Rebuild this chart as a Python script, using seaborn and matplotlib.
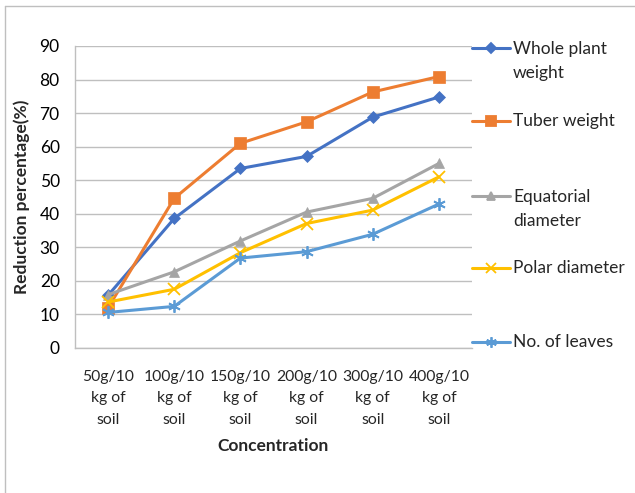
import matplotlib
matplotlib.use("Agg")
import matplotlib.pyplot as plt
from matplotlib.lines import Line2D
import seaborn as sns
import pandas as pd

categories = ["50g/10\nkg of\nsoil", "100g/10\nkg of\nsoil", "150g/10\nkg of\nsoil",
              "200g/10\nkg of\nsoil", "300g/10\nkg of\nsoil", "400g/10\nkg of\nsoil"]
whole_plant = [15.7, 38.6, 53.5, 57.1, 68.8, 74.8]
tuber = [12.0, 44.6, 61.0, 67.4, 76.3, 80.9]
equatorial = [15.9, 22.7, 31.9, 40.5, 44.6, 55.0]
polar = [13.7, 17.5, 28.4, 37.1, 41.1, 51.0]
leaves = [10.6, 12.4, 26.8, 28.7, 33.9, 42.9]

series_names = ["Whole plant\nweight", "Tuber weight", "Equatorial\ndiameter",
                "Polar diameter", "No. of leaves"]
series_values = [whole_plant, tuber, equatorial, polar, leaves]
colors = ["#4472c4", "#ed7d31", "#a5a5a5", "#ffc000", "#5b9bd5"]
markers = ["D", "s", "^", "x", (6, 2, 0)]
msizes = [6, 8.5, 7.5, 8, 9]

rows = []
for name, vals in zip(series_names, series_values):
    for i, v in enumerate(vals):
        rows.append({"series": name, "pos": i, "value": v})
df = pd.DataFrame(rows)

sns.set_style("white")
plt.rcParams["font.family"] = ["Lato", "DejaVu Sans"]
FS = 12.5

fig = plt.figure(figsize=(6.35, 4.93), dpi=100)
ax = fig.add_axes([75 / 635, 1 - 348 / 493, (472 - 75) / 635, (348 - 46) / 493])

for name, c, m, ms in zip(series_names, colors, markers, msizes):
    sub = df[df["series"] == name]
    sns.lineplot(data=sub, x="pos", y="value", ax=ax, color=c, marker=m,
                 markersize=ms, linewidth=2.2, markeredgecolor=c,
                 markeredgewidth=1.3 if m in ("x", (6, 2, 0)) else 0.5,
                 legend=False, zorder=3)

ax.set_xlim(-0.5, 5.5)
ax.set_ylim(0, 90)
ax.set_yticks(range(0, 91, 10))
ax.set_yticklabels([str(v) for v in range(0, 91, 10)], fontsize=FS, color="#000000")
ax.set_xticks(range(6))
ax.set_xticklabels(categories, fontsize=11.3, linespacing=1.65)
ax.set_xticks([i - 0.5 for i in range(7)], minor=True)
ax.tick_params(axis="x", which="major", length=0, pad=16)
ax.tick_params(axis="x", which="minor", length=5, color="#bfbfbf", width=1, direction="out")
ax.tick_params(axis="y", length=5, color="#bfbfbf", width=1, direction="out", pad=6)
ax.yaxis.grid(True, color="#bfbfbf", linewidth=1)
ax.set_axisbelow(True)
for s in ["top", "right"]:
    ax.spines[s].set_visible(False)
for s in ["left", "bottom"]:
    ax.spines[s].set_color("#bfbfbf")
    ax.spines[s].set_linewidth(1)

ax.set_xlabel("Concentration", fontsize=FS, fontweight="bold", labelpad=8)
ax.set_ylabel("Reduction percentage(%)", fontsize=FS, fontweight="bold", labelpad=7)

# legend drawn at the right side of the figure
legend_y = [48, 121, 196, 268, 342]
for name, c, m, ms, yp in zip(series_names, colors, markers, msizes, legend_y):
    yf = 1 - yp / 493
    fig.add_artist(Line2D([472 / 635, 510 / 635], [yf, yf], color=c, linewidth=2.2,
                          transform=fig.transFigure))
    fig.add_artist(Line2D([491 / 635], [yf], color=c, marker=m, markersize=ms * 0.85,
                          markeredgecolor=c, markeredgewidth=1.3,
                          transform=fig.transFigure))
    two_line = "\n" in name
    ty = yf + (7 / 493 if two_line else 0)
    fig.text(513 / 635, ty, name, fontsize=FS, va="top" if two_line else "center",
             ha="left", linespacing=1.6)

# chart frame
fig.add_artist(Line2D([5 / 635, 5 / 635], [0, 1 - 6 / 493], color="#bfbfbf", linewidth=1,
                      transform=fig.transFigure))
fig.add_artist(Line2D([5 / 635, 1], [1 - 6 / 493, 1 - 6 / 493], color="#bfbfbf", linewidth=1,
                      transform=fig.transFigure))

fig.savefig("out.png", dpi=100)
